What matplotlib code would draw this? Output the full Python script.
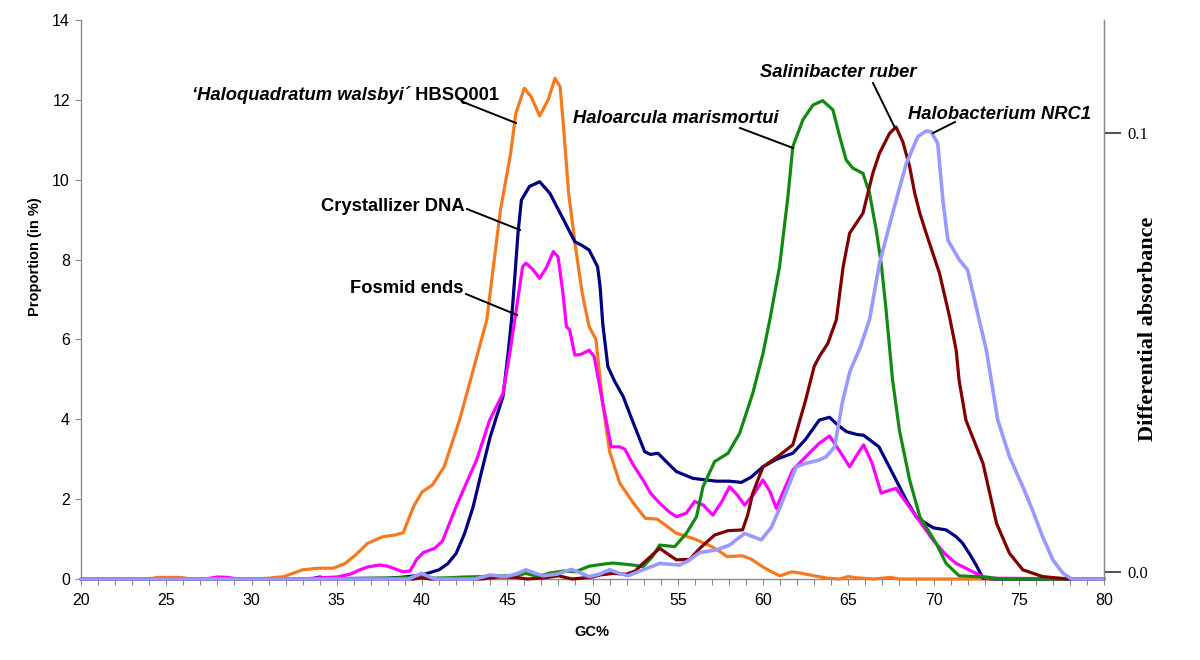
import matplotlib
matplotlib.use('Agg')
import matplotlib.pyplot as plt
from matplotlib.ticker import MultipleLocator, FixedLocator, FormatStrFormatter

# ---------------- data ----------------
x_walsbyi = [20, 24.0, 24.5, 25.8, 26.5, 30.0, 31.0, 31.9, 33.0, 33.9, 34.8, 35.5, 36.1, 36.8, 37.7, 38.4, 38.9,
             39.5, 40.0, 40.6, 41.3, 42.2, 43.0, 43.8, 44.6, 45.2, 45.5, 46.0, 46.4, 46.9, 47.4, 47.8, 48.1,
             48.3, 48.6, 49.0, 49.4, 49.8, 50.2, 50.6, 51.0, 51.6, 52.4, 53.1, 53.8, 54.9, 56.0, 57.0, 57.5,
             57.9, 58.8, 59.3, 60.0, 60.5, 61.0, 61.7, 62.3, 63.0, 63.8, 64.5, 65.0, 65.5, 66.5, 67.5, 68.0,
             70, 75, 80]
y_walsbyi = [0, 0, 0.04, 0.04, 0, 0, 0.02, 0.06, 0.23, 0.27, 0.27, 0.39, 0.6, 0.89, 1.06, 1.1, 1.16,
             1.81, 2.18, 2.35, 2.81, 3.98, 5.23, 6.49, 9.24, 10.66, 11.66, 12.29, 12.08, 11.6, 12.0, 12.54, 12.33,
             11.33, 9.66, 8.32, 7.15, 6.32, 6.0, 4.4, 3.2, 2.4, 1.9, 1.52, 1.5, 1.15, 1.0, 0.81, 0.68,
             0.56, 0.58, 0.5, 0.3, 0.18, 0.08, 0.18, 0.14, 0.08, 0.02, 0.0, 0.06, 0.03, 0.0, 0.04, 0.0,
             0, 0, 0]

x_crystal = [20, 33.5, 34.0, 34.5, 38.0, 39.0, 40.0, 41.0, 41.5, 42.0, 42.5, 43.0, 43.5, 44.0, 44.4, 44.75,
             45.05, 45.25, 45.45, 45.63, 45.83, 46.3, 46.9, 47.5, 48.3, 48.96, 49.4, 49.8, 50.3, 50.45, 50.6,
             50.9, 51.3, 51.8, 52.4, 53.06, 53.4, 53.84, 54.3, 54.92, 55.9, 57.26, 58.0, 58.73, 59.3, 60.0,
             60.8, 61.75, 62.5, 63.3, 63.9, 64.4, 64.9, 65.5, 65.9, 66.8, 67.6, 68.4, 69.0, 69.57, 70.0, 70.74,
             71.33, 71.7, 72.1, 72.5, 72.9, 73.5, 80]
y_crystal = [0, 0, 0.05, 0.01, 0.02, 0.05, 0.1, 0.23, 0.38, 0.64, 1.14, 1.81, 2.7, 3.56, 4.1, 4.57,
             5.65, 6.49, 7.6, 8.66, 9.49, 9.83, 9.95, 9.66, 9.0, 8.45, 8.35, 8.24, 7.82, 7.3, 6.4,
             5.32, 4.95, 4.57, 3.9, 3.19, 3.12, 3.15, 2.95, 2.69, 2.52, 2.45, 2.45, 2.42, 2.55, 2.81,
             3.0, 3.15, 3.5, 3.98, 4.05, 3.85, 3.69, 3.62, 3.6, 3.31, 2.65, 1.98, 1.55, 1.39, 1.28, 1.23,
             1.06, 0.9, 0.64, 0.35, 0.02, 0, 0]

x_fosmid = [20, 27.3, 28.0, 28.6, 29.2, 33.0, 34.0, 35.0, 35.8, 36.3, 36.8, 37.5, 38.0, 38.5, 38.9, 39.3,
            39.7, 40.07, 40.75, 41.2, 42.0, 42.6, 43.2, 43.97, 44.75, 45.15, 45.44, 45.9, 46.1, 46.5, 46.9,
            47.3, 47.7, 47.98, 48.27, 48.47, 48.66, 48.96, 49.3, 49.8, 50.1, 50.6, 51.1, 51.6, 51.9, 52.4,
            52.96, 53.4, 53.94, 54.5, 54.92, 55.5, 55.99, 56.5, 57.06, 57.6, 58.04, 58.5, 58.92, 59.5, 59.99,
            60.4, 60.78, 61.3, 61.75, 62.5, 63.3, 63.9, 64.5, 65.08, 65.5, 65.9, 66.4, 66.93, 67.4, 67.8,
            68.78, 69.96, 70.7, 71.33, 72.5, 73.1, 80]
y_fosmid = [0, 0, 0.05, 0.04, 0.0, 0.0, 0.03, 0.05, 0.12, 0.22, 0.3, 0.35, 0.32, 0.24, 0.18, 0.2,
            0.5, 0.66, 0.77, 0.95, 1.81, 2.4, 2.98, 3.98, 4.65, 5.65, 6.49, 7.82, 7.91, 7.75, 7.53,
            7.8, 8.2, 8.07, 7.15, 6.32, 6.24, 5.61, 5.62, 5.73, 5.57, 4.4, 3.31, 3.31, 3.25, 2.85,
            2.48, 2.15, 1.9, 1.68, 1.56, 1.65, 1.94, 1.85, 1.6, 1.95, 2.31, 2.1, 1.85, 2.15, 2.48,
            2.2, 1.77, 2.3, 2.73, 3.06, 3.4, 3.58, 3.2, 2.81, 3.1, 3.36, 2.9, 2.15, 2.22, 2.27,
            1.69, 0.98, 0.62, 0.39, 0.14, 0.02, 0]

x_haloarcula = [20, 34, 38, 40.0, 40.5, 41.5, 42.5, 43.5, 44.5, 45.5, 46.1, 46.8, 47.5, 48.3, 49.0, 49.8,
                50.42, 51.2, 52.37, 52.96, 53.5, 53.94, 54.82, 55.5, 56.1, 56.48, 57.16, 57.95, 58.63, 59.4,
                60.0, 60.4, 60.97, 61.46, 61.75, 62.34, 62.93, 63.5, 64.1, 64.5, 64.88, 65.27, 65.86, 66.25,
                66.64, 66.93, 67.2, 67.6, 68.0, 68.6, 69.2, 70.16, 70.74, 71.5, 72.5, 73.1, 73.9, 80]
y_haloarcula = [0, 0, 0.02, 0.05, 0.02, 0.03, 0.05, 0.06, 0.08, 0.08, 0.14, 0.06, 0.15, 0.2, 0.18, 0.32,
                0.36, 0.4, 0.35, 0.31, 0.55, 0.85, 0.81, 1.14, 1.56, 2.31, 2.94, 3.15, 3.65, 4.65,
                5.65, 6.49, 7.82, 9.57, 10.83, 11.5, 11.87, 11.98, 11.75, 11.08, 10.49, 10.29, 10.16, 9.66,
                8.74, 7.91, 6.82, 4.98, 3.73, 2.48, 1.56, 0.89, 0.39, 0.08, 0.06, 0.05, 0, 0]

x_salinibacter = [20, 39.5, 40.0, 40.5, 43.5, 44.5, 45.5, 46.2, 47.2, 48.0, 48.8, 49.3, 50.0, 50.42, 51.2,
                  51.98, 52.5, 52.96, 53.94, 54.5, 54.92, 55.7, 56.3, 57.16, 57.95, 58.8, 59.1, 59.4, 60.0,
                  60.97, 61.75, 62.5, 63.0, 63.3, 63.8, 64.3, 64.7, 65.08, 65.86, 66.44, 66.83, 67.42, 67.8,
                  68.2, 68.6, 68.9, 69.2, 69.57, 70.35, 70.94, 71.33, 71.5, 71.9, 72.9, 73.7, 74.46, 75.24,
                  76.4, 77.4, 78.0, 80]
y_salinibacter = [0, 0, 0.03, 0, 0, 0.05, 0.04, 0.0, 0.03, 0.08, 0.0, 0.02, 0.05, 0.1, 0.14,
                  0.12, 0.2, 0.39, 0.77, 0.6, 0.48, 0.49, 0.77, 1.1, 1.21, 1.23, 1.6, 2.15, 2.81,
                  3.1, 3.36, 4.48, 5.32, 5.57, 5.9, 6.49, 7.82, 8.66, 9.16, 10.16, 10.66, 11.16, 11.32,
                  10.95, 10.33, 9.66, 9.16, 8.66, 7.66, 6.57, 5.73, 4.98, 3.98, 2.9, 1.39, 0.64, 0.23,
                  0.06, 0.02, 0, 0]

x_halobacterium = [20, 39.2, 39.97, 40.5, 40.85, 43.1, 44.0, 44.9, 45.5, 46.1, 46.6, 47.1, 47.9, 48.76, 49.3,
                   49.8, 50.4, 51.0, 51.6, 52.08, 52.96, 53.94, 55.1, 55.6, 56.28, 57.26, 58.04, 58.92, 59.9,
                   60.5, 60.97, 61.95, 62.54, 63.3, 63.7, 64.2, 64.68, 65.1, 65.7, 66.25, 66.83, 67.6, 68.4,
                   69.08, 69.57, 69.86, 70.25, 70.55, 70.84, 71.52, 72.0, 72.5, 73.1, 73.77, 74.46, 75.24,
                   75.8, 76.4, 77.0, 77.6, 78.1, 80]
y_halobacterium = [0, 0, 0.14, 0.04, 0, 0, 0.1, 0.06, 0.12, 0.23, 0.15, 0.08, 0.12, 0.24, 0.15,
                   0.06, 0.12, 0.23, 0.14, 0.08, 0.23, 0.39, 0.35, 0.45, 0.66, 0.73, 0.85, 1.14, 0.98,
                   1.3, 1.77, 2.81, 2.9, 2.98, 3.06, 3.31, 4.48, 5.2, 5.8, 6.5, 7.9, 9.16, 10.4,
                   11.08, 11.22, 11.2, 10.91, 9.49, 8.49, 7.99, 7.74, 6.82, 5.73, 3.98, 3.06, 2.31,
                   1.73, 1.06, 0.48, 0.14, 0, 0]

x_ticks = [20, 25, 30, 35, 40, 45, 50, 55, 60, 65, 70, 75, 80]
y_ticks = [0, 2, 4, 6, 8, 10, 12, 14]
right_ticks = [0.0, 0.1]

# ---------------- figure ----------------
SANS = ['Liberation Sans', 'DejaVu Sans']
SERIF = ['Liberation Serif', 'DejaVu Serif']
plt.rcParams['font.family'] = SANS

W, H = 1200, 660
fig = plt.figure(figsize=(W / 100, H / 100), dpi=100)
L, R, T, B = 81, 1104, 20, 579
ax = fig.add_axes([L / W, 1 - B / H, (R - L) / W, (B - T) / H])
ax.set_xlim(20, 80)
ax.set_ylim(0, 14)

gray = '#8a8a8a'
for s in ['top']:
    ax.spines[s].set_visible(False)
for s in ['left', 'bottom', 'right']:
    ax.spines[s].set_color(gray)
    ax.spines[s].set_linewidth(1.0)

ax.xaxis.set_major_locator(FixedLocator(x_ticks))
ax.xaxis.set_minor_locator(MultipleLocator(1))
ax.yaxis.set_major_locator(FixedLocator(y_ticks))
ax.tick_params(axis='x', which='both', direction='out', length=4, width=0.8, color=gray,
               labelsize=11.5, pad=6)
ax.tick_params(axis='y', which='major', direction='out', length=4, width=0.8, color=gray,
               labelsize=11.5, pad=4)

series = [
    (x_walsbyi, y_walsbyi, '#F7791F', 2.3),
    (x_crystal, y_crystal, '#000080', 2.3),
    (x_fosmid, y_fosmid, '#FF00FF', 2.3),
    (x_haloarcula, y_haloarcula, '#128A12', 2.3),
    (x_salinibacter, y_salinibacter, '#800000', 2.3),
    (x_halobacterium, y_halobacterium, '#9999FF', 2.6),
]
for xs, ys, c, lw in series:
    ax.plot(xs, ys, color=c, lw=lw, solid_joinstyle='round', solid_capstyle='round', clip_on=False, zorder=3)

# right axis
ax2 = ax.twinx()
ax2.set_ylim(-0.0016, 0.1257)
for s in ['top', 'left', 'bottom']:
    ax2.spines[s].set_visible(False)
ax2.spines['right'].set_color(gray)
ax2.yaxis.set_major_locator(FixedLocator(right_ticks))
ax2.yaxis.set_major_formatter(FormatStrFormatter('%.1f'))
ax2.tick_params(axis='y', direction='out', length=12, width=1.2, color='#333333', labelsize=12, pad=5)
for lab in ax2.get_yticklabels():
    lab.set_fontfamily(SERIF)

# axis labels
fig.text(35 / W, 1 - 257 / H, 'Proportion (in %)', rotation=90, ha='center', va='center',
         fontsize=10.5, fontweight='bold')
fig.text(592 / W, 1 - 632 / H, 'GC%', ha='center', va='center', fontsize=10.5, fontweight='bold')
fig.text(1148 / W, 1 - 329 / H, 'Differential absorbance', rotation=90, ha='center', va='center',
         fontsize=16, fontweight='bold', family=SERIF)

# annotations (px -> data helpers)
def dx(px):
    return 20 + (px - L) / ((R - L) / 60.0)

def dy(py):
    return (B - py) / ((B - T) / 14.0)

FS = 13.2
lk = dict(color='black', lw=1.4, zorder=4, clip_on=False)

t1 = ax.text(dx(192), dy(100), '\u2018Haloquadratum walsbyi\u00b4', fontsize=FS, fontweight='bold',
             fontstyle='italic', ha='left', va='baseline')
fig.canvas.draw()
bb = t1.get_window_extent(renderer=fig.canvas.get_renderer())
xr = ax.transData.inverted().transform((bb.x1, bb.y0))[0]
ax.text(xr, dy(100), ' HBSQ001', fontsize=FS, fontweight='bold', ha='left', va='baseline')
ax.plot([dx(463), dx(516)], [dy(102), dy(123)], **lk)

ax.text(dx(465), dy(211), 'Crystallizer DNA', fontsize=FS, fontweight='bold', ha='right', va='baseline')
ax.plot([dx(467), dx(520)], [dy(209), dy(230)], **lk)

ax.text(dx(464), dy(293), 'Fosmid ends', fontsize=FS, fontweight='bold', ha='right', va='baseline')
ax.plot([dx(466), dx(517)], [dy(294), dy(315)], **lk)

ax.text(dx(573), dy(123), 'Haloarcula marismortui', fontsize=FS, fontweight='bold', fontstyle='italic',
        ha='left', va='baseline')
ax.plot([dx(740), dx(793)], [dy(128), dy(148)], **lk)

ax.text(dx(760), dy(77), 'Salinibacter ruber', fontsize=FS, fontweight='bold', fontstyle='italic',
        ha='left', va='baseline')
ax.plot([dx(873), dx(895)], [dy(83), dy(128)], **lk)

ax.text(dx(908), dy(119), 'Halobacterium NRC1', fontsize=FS, fontweight='bold', fontstyle='italic',
        ha='left', va='baseline')
ax.plot([dx(955), dx(933)], [dy(122), dy(133)], **lk)

fig.savefig('out.png', dpi=100)
